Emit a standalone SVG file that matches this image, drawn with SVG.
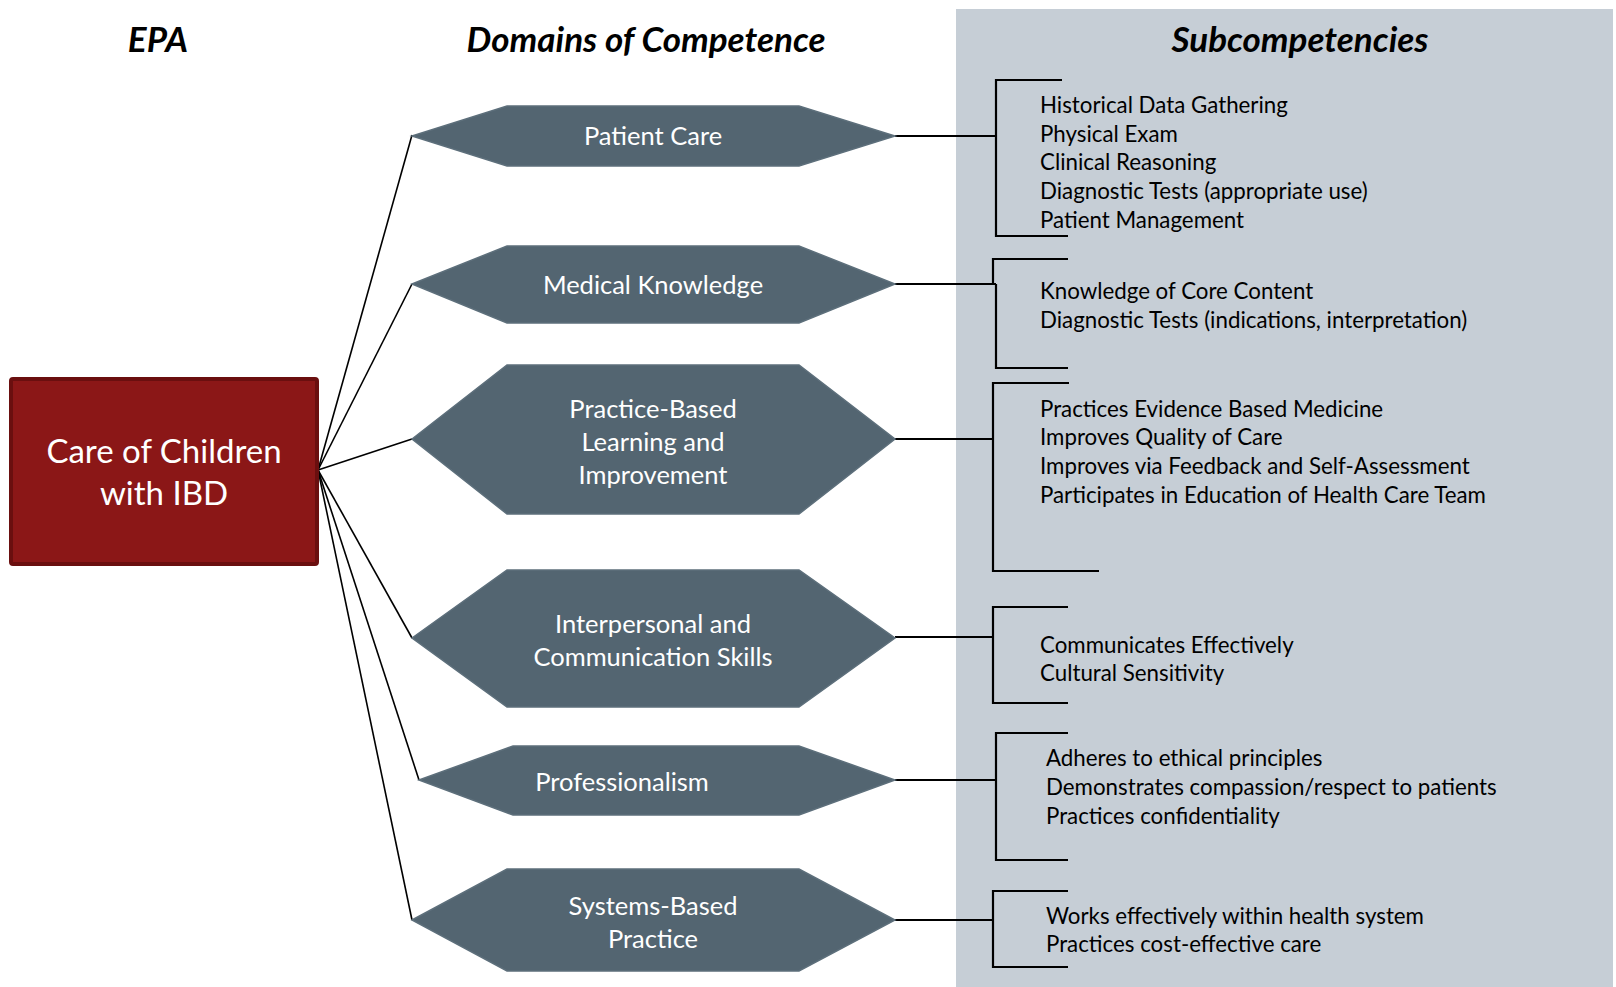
<svg xmlns="http://www.w3.org/2000/svg" width="1616" height="987" viewBox="0 0 1616 987">
<style>
.hdr{font-family:Lato,"Open Sans","Liberation Sans",sans-serif;font-weight:bold;font-style:italic;font-size:35px;fill:#000;text-anchor:middle}
.hex{fill:#536571;stroke:#5d6f7b;stroke-width:1.5}
.hext{font-family:Lato,"Open Sans","Liberation Sans",sans-serif;font-size:25.5px;fill:#fff;text-anchor:middle}
.sub{font-family:Lato,"Open Sans","Liberation Sans",sans-serif;font-size:22.3px;fill:#000}
.con{stroke:#000;stroke-width:1.6;fill:none}
.br{stroke:#000;stroke-width:2.2;fill:none}
</style>
<rect x="0" y="0" width="1616" height="987" fill="#fff"/>
<rect id="panel" x="956" y="9" width="657" height="978" fill="#c6ced6"/>
<g id="headers">
<text class="hdr" x="158" y="52">EPA</text>
<text class="hdr" x="646" y="52">Domains of Competence</text>
<text class="hdr" x="1300" y="52">Subcompetencies</text>
</g>
<g id="connectors">
<line class="con" x1="318" y1="470" x2="412" y2="135"/>
<line class="con" x1="318" y1="470" x2="412" y2="284"/>
<line class="con" x1="318" y1="470" x2="412" y2="439"/>
<line class="con" x1="318" y1="470" x2="412" y2="638"/>
<line class="con" x1="318" y1="470" x2="419" y2="780"/>
<line class="con" x1="318" y1="470" x2="412" y2="920"/>
<path class="br" d="M895,136 H996 M1062,80 H996 V236 H1068"/>
<path class="br" d="M895,284 H996 M1068,259 H993 V284 M996,284 V368 H1068"/>
<path class="br" d="M895,439 H993 M1069,383 H993 V571 H1099"/>
<path class="br" d="M895,637 H993 M1068,607 H993 V703 H1068"/>
<path class="br" d="M895,780 H996 M1068,733 H996 V860 H1068"/>
<path class="br" d="M895,920 H993 M1068,891 H993 V967 H1068"/>
</g>
<g id="epa">
<rect x="11" y="379" width="306" height="185" rx="2" fill="#8b1717" stroke="#6a0f0f" stroke-width="4"/>
<text x="164" y="463" font-family="Lato,'Open Sans','Liberation Sans',sans-serif" font-size="33" fill="#fff" text-anchor="middle">Care of Children</text>
<text x="164" y="505" font-family="Lato,'Open Sans','Liberation Sans',sans-serif" font-size="33" fill="#fff" text-anchor="middle">with IBD</text>
</g>
<g id="patient-care">
<polygon class="hex" points="412,136 507,106 799,106 895,136 799,166 507,166"/>
<text class="hext" x="653" y="145">Patient Care</text>
</g>
<g id="medical-knowledge">
<polygon class="hex" points="412,284 507,246 799,246 895,284 799,323 507,323"/>
<text class="hext" x="653" y="294">Medical Knowledge</text>
</g>
<g id="practice-based">
<polygon class="hex" points="412,439 507,365 799,365 895,439 799,514 507,514"/>
<text class="hext" x="653" y="418">Practice-Based</text>
<text class="hext" x="653" y="451">Learning and</text>
<text class="hext" x="653" y="484">Improvement</text>
</g>
<g id="interpersonal">
<polygon class="hex" points="412,638 507,570 799,570 895,638 799,707 507,707"/>
<text class="hext" x="653" y="633">Interpersonal and</text>
<text class="hext" x="653" y="666">Communication Skills</text>
</g>
<g id="professionalism">
<polygon class="hex" points="419,780 513,746 799,746 895,780 799,815 513,815"/>
<text class="hext" x="622" y="791">Professionalism</text>
</g>
<g id="systems-based">
<polygon class="hex" points="412,920 507,869 799,869 895,920 799,971 507,971"/>
<text class="hext" x="653" y="915">Systems-Based</text>
<text class="hext" x="653" y="948">Practice</text>
</g>
<g id="sub-patient-care">
<text class="sub" x="1040" y="113">Historical Data Gathering</text>
<text class="sub" x="1040" y="141.5">Physical Exam</text>
<text class="sub" x="1040" y="170">Clinical Reasoning</text>
<text class="sub" x="1040" y="199">Diagnostic Tests (appropriate use)</text>
<text class="sub" x="1040" y="228">Patient Management</text>
</g>
<g id="sub-medical-knowledge">
<text class="sub" x="1040" y="299">Knowledge of Core Content</text>
<text class="sub" x="1040" y="328">Diagnostic Tests (indications, interpretation)</text>
</g>
<g id="sub-practice-based">
<text class="sub" x="1040" y="417">Practices Evidence Based Medicine</text>
<text class="sub" x="1040" y="445">Improves Quality of Care</text>
<text class="sub" x="1040" y="474">Improves via Feedback and Self-Assessment</text>
<text class="sub" x="1040" y="503">Participates in Education of Health Care Team</text>
</g>
<g id="sub-interpersonal">
<text class="sub" x="1040" y="653">Communicates Effectively</text>
<text class="sub" x="1040" y="681">Cultural Sensitivity</text>
</g>
<g id="sub-professionalism">
<text class="sub" x="1046" y="766">Adheres to ethical principles</text>
<text class="sub" x="1046" y="795">Demonstrates compassion/respect to patients</text>
<text class="sub" x="1046" y="824">Practices confidentiality</text>
</g>
<g id="sub-systems-based">
<text class="sub" x="1046" y="924">Works effectively within health system</text>
<text class="sub" x="1046" y="952">Practices cost-effective care</text>
</g>
</svg>
